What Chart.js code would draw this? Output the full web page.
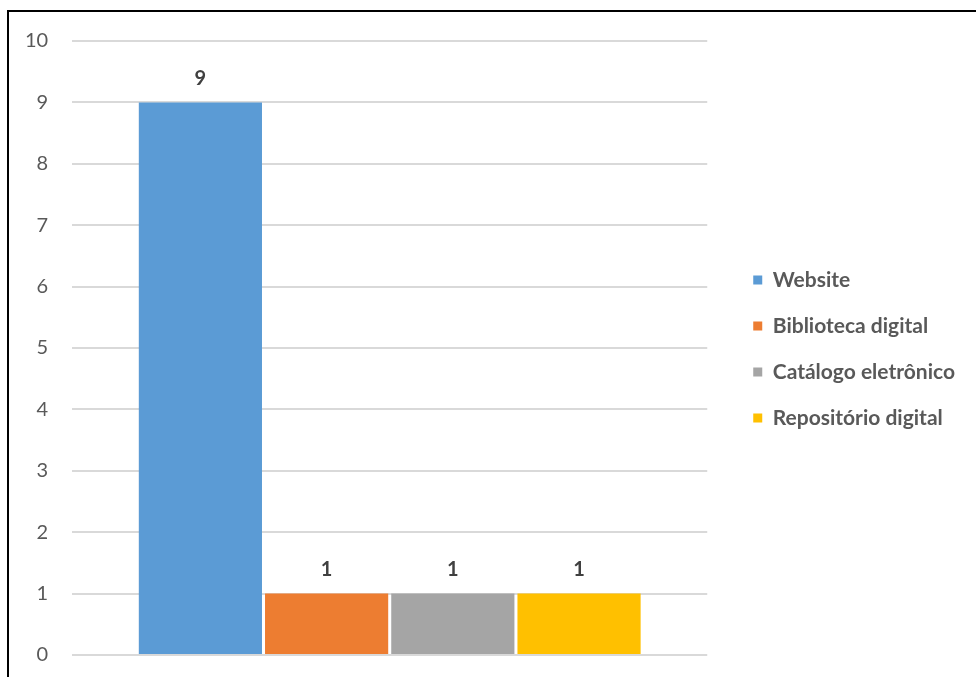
<!DOCTYPE html>
<html>
<head>
<meta charset="utf-8">
<script src="https://cdn.jsdelivr.net/npm/chart.js@4/dist/chart.umd.min.js"></script>
<style>
  html, body { margin: 0; padding: 0; background: #fff; overflow: hidden; }
  body { width: 976px; height: 677px; position: relative; }
  #frame { position: absolute; left: 7px; top: 10px; width: 1000px; height: 700px; z-index: 2;
           border-left: 2px solid #000; border-top: 2px solid #000; box-sizing: border-box; pointer-events: none; }
  #wrap { position: absolute; left: 1px; top: 5px; width: 964px; height: 686px; z-index: 1; }
</style>
</head>
<body>
<div id="wrap"><canvas id="c"></canvas></div>
<div id="frame"></div>
<script>
const categories = [''];
const seriesNames = ['Website', 'Biblioteca digital', 'Catálogo eletrônico', 'Repositório digital'];
const seriesValues = [[9], [1], [1], [1]];
const seriesColors = ['#5B9BD5', '#ED7D31', '#A5A5A5', '#FFC000'];
const yTicks = [0, 1, 2, 3, 4, 5, 6, 7, 8, 9, 10];

const FONT = 'Lato, "Open Sans", sans-serif';
const LEGEND_SHIFT = 21;

const valueLabels = {
  id: 'valueLabels',
  afterDatasetsDraw(chart) {
    const ctx = chart.ctx;
    ctx.save();
    ctx.font = 'bold 20px ' + FONT;
    ctx.fillStyle = '#404040';
    ctx.textAlign = 'center';
    ctx.textBaseline = 'middle';
    chart.data.datasets.forEach((ds, i) => {
      const meta = chart.getDatasetMeta(i);
      meta.data.forEach((bar, j) => {
        ctx.fillText(String(ds.data[j]), bar.x, bar.y - 24);
      });
    });
    ctx.restore();
  }
};

const legendGap = {
  id: 'legendGap',
  beforeLayout(chart) {
    const lg = chart.legend;
    if (lg && !lg._gapWrapped) {
      const orig = lg.fit.bind(lg);
      lg.fit = function () { orig(); this.width += LEGEND_SHIFT; };
      lg._gapWrapped = true;
    }
  },
  afterLayout(chart) {
    const lg = chart.legend;
    if (lg) { lg.left += LEGEND_SHIFT; lg.top += 1; lg.bottom += 1; }
  }
};

new Chart(document.getElementById('c'), {
  type: 'bar',
  data: {
    labels: categories,
    datasets: seriesNames.map((n, i) => ({
      label: n,
      data: seriesValues[i],
      backgroundColor: seriesColors[i],
      categoryPercentage: 0.795,
      barPercentage: 0.976
    }))
  },
  options: {
    responsive: true,
    maintainAspectRatio: false,
    animation: false,
    layout: { padding: { top: 0, bottom: 0, left: 0, right: 0 } },
    scales: {
      x: { display: false },
      y: {
        min: 0, max: 10,
        afterBuildTicks(scale) { scale.ticks = yTicks.map(v => ({ value: v })); },
        grid: { color: '#D9D9D9', lineWidth: 2, drawTicks: false },
        border: { display: false },
        ticks: { color: '#595959', padding: 24, font: { family: FONT, size: 20 } }
      }
    },
    plugins: {
      legend: {
        position: 'right',
        labels: {
          color: '#595959',
          boxWidth: 9, boxHeight: 9,
          padding: 25,
          font: { family: FONT, size: 21, weight: 'bold' }
        }
      },
      tooltip: { enabled: false }
    }
  },
  plugins: [valueLabels, legendGap]
});
</script>
</body>
</html>
